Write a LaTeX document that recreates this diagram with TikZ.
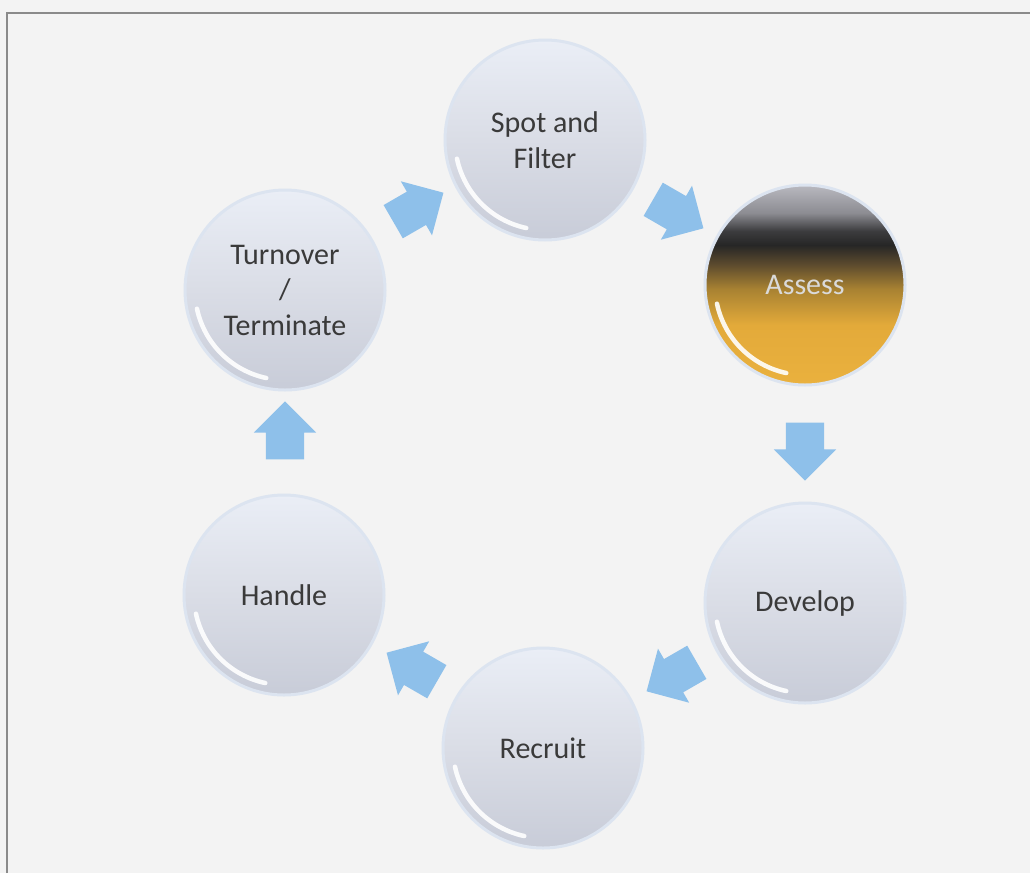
\documentclass[tikz,border=0pt]{standalone}
\usepackage{fontspec}
\setmainfont{Carlito}
\usetikzlibrary{shapes.arrows}
\definecolor{bg}{HTML}{F3F3F3}
\definecolor{framec}{HTML}{8A8A8A}
\definecolor{ballTop}{HTML}{EAEEF6}
\definecolor{ballMid}{HTML}{DADDE6}
\definecolor{ballBot}{HTML}{C8CCD8}
\definecolor{halo}{HTML}{DCE4F0}
\definecolor{txt}{HTML}{3A3A3A}
\definecolor{arrowblue}{HTML}{8EC0EA}
\definecolor{gold}{HTML}{EAB13E}
\definecolor{goldB}{HTML}{E3AA3A}
\definecolor{brownA}{HTML}{A88232}
\definecolor{brownB}{HTML}{5E4C2E}
\definecolor{darkA}{HTML}{262626}
\definecolor{darkB}{HTML}{3C3C3E}
\definecolor{grayA}{HTML}{8C8C92}
\definecolor{grayB}{HTML}{B9B9C0}
\definecolor{assesstxt}{HTML}{DADADA}
\pgfdeclareverticalshading{assessshade}{100bp}{color(0bp)=(gold); color(25bp)=(gold); color(40bp)=(goldB); color(49bp)=(brownA); color(55bp)=(brownB); color(60bp)=(darkA); color(63.5bp)=(darkB); color(68bp)=(grayA); color(75bp)=(grayB); color(100bp)=(grayB)}
\tikzset{
  ball/.style={circle, minimum size=200pt, inner sep=0pt, draw=halo, line width=3pt,
    top color=ballTop, bottom color=ballBot, middle color=ballMid,
    font=\fontsize{30}{35.5}\selectfont, text=txt, align=center},
  hotball/.style={ball, shading=assessshade, text=assesstxt},
  blockarrow/.style={single arrow, fill=arrowblue, draw=none, inner xsep=0pt, inner ysep=19pt,
    minimum height=58pt, single arrow head extend=12pt},
  shine/.style={white, line width=4.5pt, line cap=round, opacity=0.9}
}
\begin{document}
\begin{tikzpicture}[x=1pt,y=-1pt]
\useasboundingbox (0,0) rectangle (1030,873);
\fill[bg] (0,0) rectangle (1030,873);
\draw[framec, line width=2pt] (7,873) -- (7,13) -- (1030,13);

\node[ball]    (spot)     at (545,140) {Spot and\\Filter};
\node[hotball] (assess)   at (805,285) {Assess};
\node[ball]    (develop)  at (805,603) {Develop};
\node[ball]    (recruit)  at (543,748) {Recruit};
\node[ball]    (handle)   at (284,595) {Handle};
\node[ball]    (turnover) at (285,290) {Turnover\\/\\Terminate};

\foreach \n in {spot,assess,develop,recruit,handle,turnover}{
  \draw[shine] (\n.center) ++(192:90pt) arc[start angle=192, end angle=258, radius=90pt];
}

\node[blockarrow, rotate=-30]  (a1) at (670,209) {};
\node[blockarrow, rotate=-90]  (a2) at (805,442) {};
\node[blockarrow, rotate=-150] (a3) at (680,672) {};
\node[blockarrow, rotate=150]  (a4) at (420,672) {};
\node[blockarrow, rotate=90]   (a5) at (285,440) {};
\node[blockarrow, rotate=30]   (a6) at (410,212) {};
\end{tikzpicture}
\end{document}
